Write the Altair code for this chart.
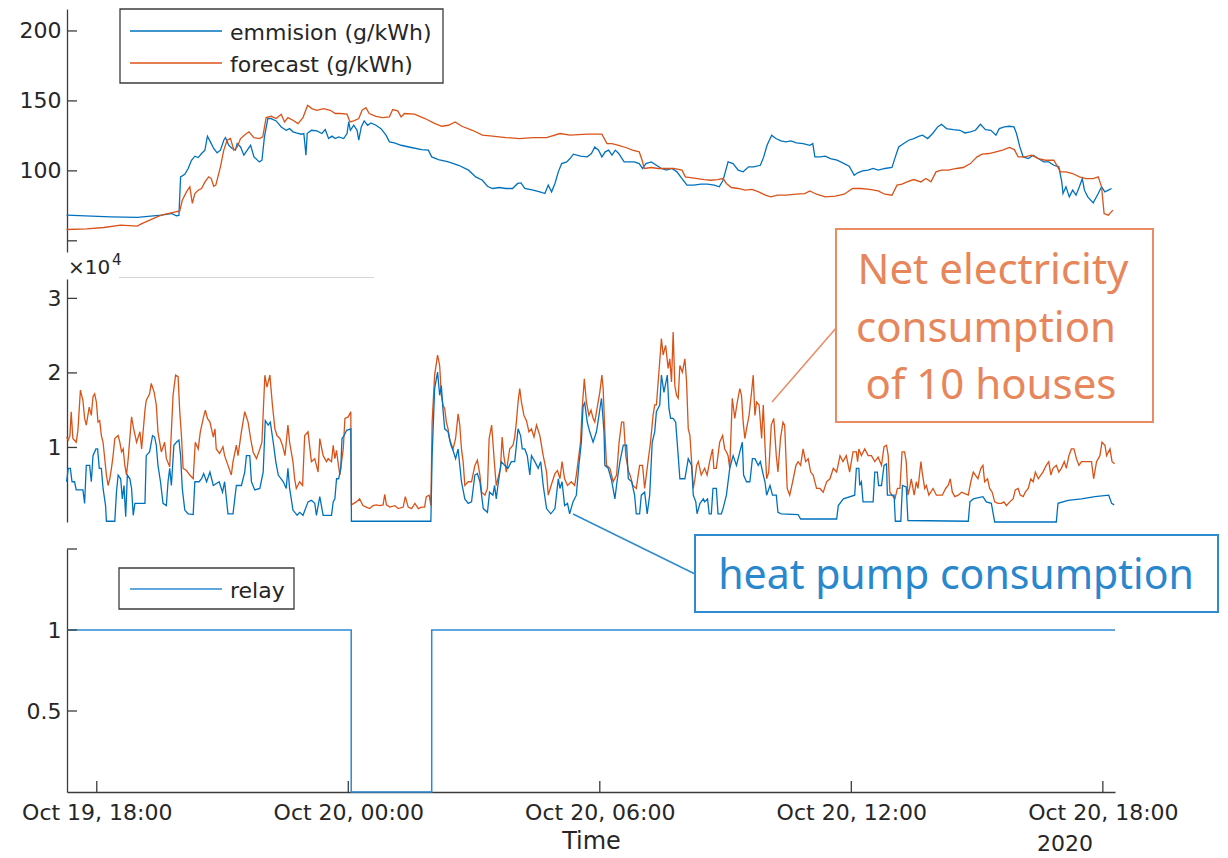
import altair as alt
import pandas as pd

# ---------------- data (hours after 19 Oct 2020 18:00, value) ----------------
T0 = pd.Timestamp("2020-10-19 18:00")
H_START, H_END = -0.71, 24.29
X_TICK_HOURS = [0, 6, 12, 18, 24]

EMISSION = [
    (-0.72, 68.3), (0.33, 67.1), (0.97, 66.7), (1.54, 68.3), (1.78, 69.5), (1.90, 67.9), (1.96, 68.1),
    (2.00, 95.7), (2.10, 97.6), (2.18, 101.7), (2.26, 107.6), (2.34, 110.5), (2.42, 109.5), (2.50, 112.4),
    (2.58, 114.8), (2.64, 124.8), (2.71, 120.7), (2.79, 116.0), (2.87, 112.9), (2.95, 114.8), (3.03, 121.9),
    (3.07, 123.8), (3.15, 118.3), (3.23, 116.0), (3.31, 114.8), (3.35, 119.5), (3.43, 117.1), (3.51, 111.2),
    (3.59, 114.8), (3.67, 118.3), (3.75, 110.0), (3.88, 106.4), (3.94, 107.6), (4.00, 124.3), (4.08, 137.4),
    (4.16, 137.4), (4.28, 135.7), (4.40, 131.4), (4.52, 129.0), (4.60, 130.2), (4.68, 127.9), (4.76, 127.1),
    (4.88, 126.2), (4.94, 126.7), (4.99, 111.2), (5.02, 126.7), (5.12, 129.0), (5.25, 128.6), (5.37, 126.7),
    (5.45, 129.5), (5.53, 123.1), (5.61, 124.8), (5.69, 123.1), (5.77, 124.3), (5.89, 123.1), (5.97, 126.7),
    (6.01, 135.0), (6.05, 129.0), (6.13, 132.6), (6.21, 129.0), (6.25, 121.9), (6.31, 131.4), (6.38, 135.7),
    (6.46, 132.6), (6.54, 134.3), (6.66, 132.6), (6.78, 130.2), (6.90, 125.5), (6.98, 120.7), (7.10, 120.0),
    (7.26, 118.3), (7.50, 116.7), (7.75, 115.2), (7.91, 114.8), (7.99, 110.0), (8.15, 108.1), (8.39, 106.4),
    (8.63, 104.0), (8.87, 100.5), (9.04, 95.7), (9.20, 93.3), (9.32, 89.0), (9.44, 87.4), (9.60, 88.1),
    (9.76, 87.4), (9.92, 87.4), (10.04, 91.0), (10.12, 91.4), (10.21, 87.4), (10.41, 86.2), (10.57, 85.0),
    (10.69, 83.8), (10.77, 89.8), (10.85, 85.0), (10.93, 91.0), (11.01, 99.3), (11.09, 105.2), (11.21, 106.4),
    (11.29, 108.8), (11.37, 111.9), (11.54, 110.5), (11.70, 110.0), (11.80, 112.4), (11.88, 117.1),
    (11.97, 114.8), (12.05, 110.0), (12.13, 113.6), (12.21, 114.8), (12.29, 111.2), (12.37, 114.8),
    (12.45, 112.4), (12.58, 106.4), (12.70, 106.4), (12.82, 106.4), (12.94, 105.2), (13.02, 101.7),
    (13.10, 105.2), (13.23, 106.4), (13.35, 104.0), (13.47, 101.7), (13.59, 100.5), (13.72, 101.7),
    (13.84, 99.3), (13.96, 94.5), (14.08, 89.8), (14.24, 89.8), (14.41, 90.5), (14.57, 90.5), (14.73, 89.8),
    (14.85, 88.6), (14.94, 93.3), (15.06, 106.4), (15.18, 105.2), (15.30, 100.5), (15.42, 99.3),
    (15.55, 102.9), (15.67, 102.9), (15.83, 104.0), (15.91, 110.0), (15.99, 118.3), (16.10, 125.5),
    (16.20, 123.1), (16.32, 121.4), (16.44, 120.7), (16.56, 121.4), (16.69, 120.0), (16.85, 119.5),
    (17.01, 118.3), (17.08, 119.5), (17.13, 110.0), (17.26, 110.0), (17.38, 110.5), (17.50, 108.8),
    (17.66, 107.6), (17.83, 105.2), (17.95, 103.3), (18.07, 96.9), (18.15, 98.6), (18.27, 100.0),
    (18.40, 100.5), (18.52, 101.7), (18.64, 100.5), (18.80, 101.7), (18.97, 102.4), (19.05, 110.0),
    (19.13, 117.1), (19.25, 119.5), (19.37, 121.9), (19.49, 123.1), (19.62, 124.8), (19.70, 125.5),
    (19.82, 123.1), (19.94, 126.7), (20.06, 131.4), (20.15, 133.3), (20.27, 130.2), (20.43, 129.5),
    (20.59, 129.0), (20.71, 127.1), (20.84, 127.9), (20.96, 129.0), (21.08, 133.3), (21.20, 129.5),
    (21.33, 129.0), (21.45, 125.5), (21.53, 130.2), (21.65, 131.4), (21.77, 131.9), (21.88, 131.4),
    (21.94, 126.7), (22.02, 117.1), (22.10, 110.0), (22.22, 108.8), (22.34, 111.2), (22.46, 108.8),
    (22.59, 106.4), (22.71, 106.4), (22.83, 104.0), (22.95, 102.9), (23.02, 92.1), (23.05, 83.8),
    (23.12, 88.6), (23.20, 81.4), (23.28, 86.2), (23.36, 82.6), (23.44, 88.6), (23.51, 94.5), (23.56, 86.2),
    (23.64, 81.4), (23.77, 77.1), (23.89, 83.8), (23.97, 88.6), (24.05, 85.0), (24.13, 86.2), (24.21, 87.4),
]

FORECAST = [
    (-0.72, 58.1), (-0.24, 58.6), (0.17, 59.5), (0.57, 61.2), (0.97, 60.5), (1.05, 61.9), (1.29, 65.2),
    (1.54, 68.3), (1.70, 69.5), (1.98, 71.4), (2.04, 79.0), (2.14, 85.0), (2.22, 88.6), (2.28, 76.7),
    (2.34, 83.8), (2.42, 86.2), (2.50, 87.4), (2.58, 92.1), (2.67, 95.7), (2.73, 94.5), (2.79, 89.0),
    (2.84, 89.8), (2.95, 102.9), (3.03, 114.8), (3.11, 121.9), (3.19, 123.1), (3.27, 114.8), (3.35, 117.1),
    (3.43, 123.1), (3.55, 126.2), (3.63, 127.9), (3.75, 123.8), (3.88, 123.1), (3.96, 124.3), (4.04, 138.1),
    (4.16, 139.0), (4.28, 137.4), (4.40, 140.5), (4.48, 135.0), (4.56, 138.1), (4.68, 136.2), (4.80, 133.8),
    (4.92, 138.1), (5.03, 146.9), (5.13, 144.5), (5.25, 143.3), (5.41, 144.5), (5.57, 143.3), (5.69, 141.0),
    (5.81, 141.0), (5.97, 140.5), (6.04, 135.0), (6.13, 135.7), (6.25, 137.4), (6.33, 143.3), (6.42, 145.2),
    (6.50, 141.0), (6.66, 139.0), (6.82, 138.1), (6.98, 138.6), (7.06, 143.8), (7.18, 142.9), (7.26, 138.6),
    (7.34, 141.0), (7.58, 140.5), (7.83, 137.4), (8.07, 133.8), (8.23, 131.9), (8.39, 132.6), (8.55, 135.0),
    (8.71, 131.9), (8.96, 129.0), (9.20, 125.5), (9.44, 124.8), (9.76, 123.8), (10.08, 123.1), (10.41, 123.8),
    (10.73, 123.8), (11.05, 126.7), (11.29, 125.5), (11.70, 126.2), (11.88, 126.2), (12.05, 126.2),
    (12.17, 119.5), (12.29, 119.5), (12.45, 118.3), (12.62, 116.7), (12.78, 114.8), (12.94, 113.6),
    (13.01, 107.6), (13.06, 101.7), (13.23, 102.4), (13.39, 101.7), (13.59, 101.7), (13.76, 101.7),
    (13.96, 100.5), (14.04, 95.7), (14.16, 95.2), (14.33, 94.5), (14.49, 93.8), (14.65, 93.3), (14.81, 93.8),
    (14.94, 94.5), (15.02, 91.0), (15.14, 88.1), (15.30, 87.4), (15.47, 86.2), (15.63, 86.7), (15.79, 85.0),
    (15.95, 82.6), (16.08, 81.4), (16.24, 82.6), (16.44, 82.6), (16.69, 83.3), (16.89, 83.8), (17.01, 85.7),
    (17.17, 83.3), (17.38, 81.4), (17.62, 81.9), (17.83, 83.3), (18.03, 87.4), (18.23, 87.4), (18.44, 86.7),
    (18.64, 85.7), (18.80, 83.3), (18.97, 82.6), (19.09, 89.8), (19.21, 90.5), (19.33, 92.1), (19.49, 93.8),
    (19.66, 92.1), (19.78, 94.5), (19.90, 92.1), (20.02, 99.3), (20.15, 100.5), (20.31, 100.5),
    (20.51, 101.7), (20.67, 102.4), (20.84, 105.2), (21.00, 110.0), (21.12, 111.9), (21.28, 112.4),
    (21.45, 113.6), (21.61, 114.8), (21.77, 116.7), (21.89, 115.2), (21.98, 110.0), (22.14, 110.0),
    (22.30, 111.2), (22.46, 108.8), (22.63, 107.6), (22.83, 107.6), (22.99, 99.3), (23.12, 99.3),
    (23.28, 98.1), (23.44, 95.7), (23.60, 94.5), (23.77, 94.5), (23.89, 95.7), (23.97, 88.6), (24.03, 69.5),
    (24.13, 68.3), (24.24, 71.9),
]

# net electricity consumption of 10 houses, in units of 10^4
NET = [
    (-0.72, 1.14), (-0.68, 1.10), (-0.64, 1.16), (-0.61, 1.48), (-0.57, 1.12), (-0.49, 1.07), (-0.45, 1.23),
    (-0.39, 1.77), (-0.33, 1.63), (-0.29, 1.39), (-0.25, 1.30), (-0.18, 1.54), (-0.13, 1.43), (-0.09, 1.68),
    (-0.05, 1.72), (-0.01, 1.61), (0.03, 1.34), (0.07, 1.36), (0.11, 1.16), (0.15, 1.07), (0.23, 0.63),
    (0.27, 0.49), (0.31, 0.58), (0.35, 0.72), (0.39, 0.89), (0.43, 1.12), (0.51, 1.16), (0.55, 1.07),
    (0.59, 0.94), (0.63, 0.98), (0.67, 0.76), (0.71, 0.63), (0.75, 0.85), (0.83, 1.41), (0.88, 1.25),
    (0.95, 1.07), (1.03, 1.21), (1.07, 0.98), (1.15, 1.50), (1.18, 1.63), (1.26, 1.72), (1.30, 1.86),
    (1.37, 1.74), (1.42, 1.57), (1.46, 1.21), (1.54, 0.94), (1.62, 1.07), (1.66, 0.85), (1.74, 0.74),
    (1.82, 1.70), (1.88, 1.97), (1.94, 1.95), (1.98, 1.48), (2.02, 1.16), (2.06, 0.72), (2.14, 0.69),
    (2.22, 0.63), (2.30, 0.58), (2.35, 1.07), (2.42, 0.98), (2.47, 1.21), (2.54, 1.39), (2.59, 1.50),
    (2.64, 1.39), (2.70, 1.34), (2.78, 1.14), (2.82, 1.25), (2.85, 0.98), (2.93, 0.92), (3.01, 1.01),
    (3.05, 0.89), (3.13, 0.76), (3.21, 0.63), (3.25, 0.81), (3.33, 1.03), (3.37, 0.89), (3.45, 1.21),
    (3.53, 1.48), (3.61, 1.34), (3.67, 1.12), (3.73, 0.94), (3.81, 0.85), (3.89, 0.98), (3.94, 1.07),
    (4.01, 1.97), (4.06, 1.81), (4.13, 1.97), (4.19, 1.57), (4.25, 1.25), (4.30, 1.16), (4.37, 1.12),
    (4.43, 1.03), (4.49, 0.89), (4.56, 1.30), (4.60, 1.07), (4.68, 0.81), (4.72, 0.58), (4.76, 0.45),
    (4.84, 0.54), (4.91, 0.49), (4.96, 1.16), (5.04, 1.21), (5.12, 0.81), (5.20, 0.85), (5.28, 0.67),
    (5.32, 1.12), (5.40, 0.89), (5.48, 0.81), (5.52, 0.85), (5.60, 0.81), (5.64, 1.03), (5.68, 0.85),
    (5.72, 0.96), (5.76, 0.78), (5.80, 0.63), (5.84, 0.81), (5.88, 0.98), (5.92, 1.39), (6.00, 1.41),
    (6.06, 1.48), (6.075, 0.23), (6.19, 0.27), (6.27, 0.31), (6.35, 0.22), (6.43, 0.20), (6.51, 0.18),
    (6.59, 0.22), (6.67, 0.23), (6.75, 0.22), (6.83, 0.23), (6.87, 0.37), (6.91, 0.23), (6.99, 0.20),
    (7.11, 0.22), (7.19, 0.18), (7.31, 0.20), (7.36, 0.34), (7.43, 0.20), (7.51, 0.18), (7.59, 0.25),
    (7.67, 0.18), (7.75, 0.20), (7.82, 0.20), (7.86, 0.34), (7.93, 0.36), (7.97, 0.22), (8.00, 1.34),
    (8.06, 1.97), (8.13, 2.24), (8.18, 2.10), (8.22, 1.70), (8.26, 1.57), (8.30, 1.52), (8.34, 1.34),
    (8.38, 1.25), (8.42, 1.10), (8.50, 0.98), (8.56, 1.12), (8.62, 1.45), (8.66, 1.30), (8.70, 0.98),
    (8.74, 0.81), (8.78, 0.49), (8.86, 0.54), (8.94, 0.54), (9.02, 0.76), (9.08, 0.83), (9.14, 0.63),
    (9.18, 0.40), (9.26, 0.36), (9.32, 0.45), (9.36, 1.12), (9.42, 1.30), (9.45, 1.07), (9.49, 0.76),
    (9.53, 0.49), (9.57, 0.58), (9.63, 0.72), (9.67, 1.14), (9.71, 0.89), (9.77, 0.67), (9.85, 0.98),
    (9.93, 1.03), (9.97, 1.14), (10.01, 1.34), (10.05, 1.61), (10.09, 1.79), (10.13, 1.61), (10.19, 1.43),
    (10.25, 1.36), (10.31, 1.21), (10.37, 1.25), (10.43, 1.14), (10.49, 1.30), (10.57, 1.16), (10.65, 0.89),
    (10.73, 0.67), (10.77, 0.36), (10.85, 0.51), (10.93, 0.65), (10.99, 0.69), (11.05, 0.58), (11.10, 0.81),
    (11.16, 0.58), (11.23, 0.49), (11.32, 0.54), (11.40, 0.49), (11.44, 0.63), (11.50, 0.89), (11.54, 1.07),
    (11.58, 1.52), (11.63, 1.92), (11.68, 1.61), (11.74, 1.43), (11.79, 1.50), (11.84, 1.39), (11.88, 1.34),
    (11.94, 1.54), (12.00, 1.74), (12.05, 1.97), (12.08, 1.79), (12.12, 1.21), (12.16, 0.76), (12.24, 0.72),
    (12.32, 0.54), (12.40, 0.63), (12.46, 1.07), (12.52, 1.34), (12.57, 1.34), (12.62, 0.89), (12.68, 0.69),
    (12.72, 0.63), (12.79, 0.49), (12.87, 0.45), (12.95, 0.76), (13.02, 0.76), (13.07, 0.45), (13.15, 0.81),
    (13.21, 1.07), (13.27, 1.43), (13.31, 1.57), (13.35, 1.57), (13.41, 2.01), (13.47, 2.46), (13.51, 2.24),
    (13.57, 2.37), (13.63, 2.06), (13.67, 2.19), (13.71, 1.88), (13.75, 2.55), (13.79, 1.83), (13.83, 1.70),
    (13.87, 1.66), (13.91, 2.10), (13.97, 2.01), (14.03, 2.19), (14.07, 1.88), (14.11, 1.25), (14.15, 1.16),
    (14.19, 0.81), (14.23, 0.45), (14.27, 0.58), (14.31, 0.76), (14.35, 0.81), (14.42, 0.63), (14.50, 0.72),
    (14.56, 0.63), (14.62, 0.81), (14.69, 0.98), (14.72, 0.72), (14.78, 0.72), (14.86, 1.07), (14.93, 1.16),
    (14.98, 0.98), (15.02, 0.94), (15.06, 0.89), (15.10, 0.72), (15.16, 1.66), (15.22, 1.39), (15.28, 1.61),
    (15.34, 1.79), (15.38, 1.70), (15.42, 1.34), (15.46, 1.12), (15.50, 1.25), (15.56, 1.43), (15.62, 1.74),
    (15.66, 1.97), (15.70, 1.43), (15.74, 1.61), (15.80, 1.57), (15.86, 1.12), (15.90, 1.57), (15.94, 1.03),
    (15.98, 0.58), (16.03, 0.67), (16.09, 1.30), (16.15, 1.39), (16.21, 0.89), (16.25, 0.67), (16.31, 1.12),
    (16.37, 1.34), (16.41, 1.30), (16.47, 0.45), (16.53, 0.36), (16.60, 0.54), (16.68, 0.76), (16.73, 0.81),
    (16.79, 0.76), (16.85, 0.98), (16.91, 0.81), (16.97, 0.85), (17.03, 0.67), (17.09, 0.63), (17.17, 0.45),
    (17.25, 0.45), (17.33, 0.40), (17.41, 0.54), (17.49, 0.58), (17.57, 0.72), (17.65, 0.67), (17.73, 0.89),
    (17.80, 0.81), (17.88, 0.89), (17.96, 0.67), (18.04, 0.94), (18.12, 0.94), (18.15, 0.81), (18.18, 0.98),
    (18.24, 0.89), (18.32, 0.98), (18.40, 0.89), (18.48, 0.89), (18.56, 0.81), (18.64, 0.87), (18.72, 0.76),
    (18.78, 1.01), (18.84, 1.03), (18.88, 0.89), (18.92, 0.40), (18.97, 0.36), (19.04, 0.31), (19.10, 0.45),
    (19.16, 0.45), (19.21, 0.94), (19.27, 0.94), (19.31, 0.81), (19.35, 0.36), (19.39, 0.45), (19.43, 0.58),
    (19.50, 0.36), (19.55, 0.54), (19.59, 0.45), (19.66, 0.81), (19.69, 0.67), (19.75, 0.45), (19.79, 0.49),
    (19.85, 0.36), (19.95, 0.45), (20.03, 0.36), (20.17, 0.36), (20.25, 0.45), (20.31, 0.49), (20.36, 0.58),
    (20.41, 0.40), (20.47, 0.34), (20.55, 0.36), (20.63, 0.40), (20.71, 0.38), (20.79, 0.36), (20.85, 0.54),
    (20.91, 0.67), (20.96, 0.63), (21.02, 0.58), (21.09, 0.72), (21.14, 0.76), (21.18, 0.54), (21.25, 0.58),
    (21.30, 0.45), (21.36, 0.40), (21.42, 0.27), (21.50, 0.25), (21.58, 0.25), (21.64, 0.27), (21.70, 0.22),
    (21.78, 0.27), (21.86, 0.31), (21.91, 0.43), (21.98, 0.45), (22.03, 0.36), (22.10, 0.34), (22.15, 0.40),
    (22.22, 0.45), (22.28, 0.58), (22.34, 0.54), (22.39, 0.67), (22.46, 0.58), (22.52, 0.63), (22.57, 0.67),
    (22.65, 0.76), (22.71, 0.81), (22.76, 0.63), (22.81, 0.72), (22.89, 0.76), (22.95, 0.67), (23.01, 0.72),
    (23.08, 0.81), (23.13, 0.72), (23.19, 0.89), (23.25, 0.98), (23.31, 0.98), (23.37, 0.85), (23.43, 0.76),
    (23.49, 0.81), (23.57, 0.81), (23.65, 0.81), (23.73, 0.81), (23.78, 0.58), (23.85, 0.81), (23.93, 0.89),
    (23.98, 1.07), (24.05, 1.03), (24.09, 0.89), (24.17, 0.98), (24.22, 0.81), (24.28, 0.78),
]

# heat pump consumption, in units of 10^4
HEATPUMP = [
    (-0.72, 0.54), (-0.68, 0.72), (-0.63, 0.72), (-0.59, 0.54), (-0.53, 0.54), (-0.49, 0.43), (-0.33, 0.43),
    (-0.29, 0.25), (-0.25, 0.76), (-0.17, 0.76), (-0.13, 0.54), (-0.09, 0.89), (-0.02, 0.98), (0.02, 0.98),
    (0.06, 0.72), (0.11, 0.72), (0.15, 0.45), (0.21, 0.22), (0.23, 0.01), (0.43, 0.01), (0.47, 0.40),
    (0.51, 0.63), (0.57, 0.58), (0.61, 0.31), (0.65, 0.49), (0.69, 0.07), (0.73, 0.63), (0.79, 0.58),
    (0.83, 0.45), (0.87, 0.09), (0.91, 0.25), (1.15, 0.25), (1.18, 0.89), (1.26, 0.94), (1.33, 1.16),
    (1.38, 1.14), (1.42, 1.03), (1.46, 0.76), (1.52, 0.54), (1.58, 0.25), (1.66, 0.22), (1.70, 0.54),
    (1.74, 0.72), (1.78, 0.49), (1.84, 1.03), (1.90, 1.07), (1.96, 1.10), (2.00, 0.89), (2.04, 0.45),
    (2.10, 0.16), (2.18, 0.11), (2.30, 0.10), (2.34, 0.54), (2.44, 0.54), (2.50, 0.58), (2.55, 0.65),
    (2.62, 0.54), (2.70, 0.67), (2.78, 0.49), (2.92, 0.54), (3.00, 0.40), (3.05, 0.54), (3.13, 0.11),
    (3.25, 0.11), (3.33, 0.49), (3.45, 0.49), (3.53, 0.67), (3.57, 0.89), (3.65, 0.89), (3.69, 0.54),
    (3.77, 0.43), (3.89, 0.45), (3.97, 0.67), (4.02, 1.36), (4.09, 1.30), (4.14, 1.34), (4.21, 1.07),
    (4.27, 0.81), (4.33, 0.63), (4.45, 0.54), (4.52, 0.45), (4.56, 0.72), (4.60, 0.45), (4.64, 0.31),
    (4.68, 0.16), (4.78, 0.09), (4.84, 0.13), (4.92, 0.09), (5.04, 0.27), (5.12, 0.29), (5.20, 0.25),
    (5.24, 0.09), (5.32, 0.34), (5.40, 0.09), (5.60, 0.09), (5.64, 0.27), (5.68, 0.31), (5.72, 0.58),
    (5.77, 0.58), (5.82, 0.72), (5.85, 1.12), (5.90, 1.16), (5.96, 1.23), (6.06, 1.25), (6.075, 0.01),
    (7.97, 0.01), (8.00, 0.89), (8.06, 1.79), (8.13, 2.01), (8.18, 1.70), (8.22, 1.83), (8.26, 1.50),
    (8.30, 1.25), (8.38, 1.21), (8.45, 1.03), (8.50, 0.96), (8.56, 0.85), (8.62, 0.98), (8.70, 0.54),
    (8.78, 0.31), (8.86, 0.25), (8.94, 0.27), (9.02, 0.63), (9.08, 0.65), (9.14, 0.54), (9.22, 0.18),
    (9.32, 0.13), (9.37, 0.40), (9.45, 0.36), (9.49, 0.49), (9.53, 0.31), (9.57, 0.49), (9.65, 0.81),
    (9.73, 0.76), (9.81, 0.72), (9.89, 0.81), (9.97, 0.81), (10.05, 1.25), (10.11, 1.16), (10.15, 0.98),
    (10.21, 0.98), (10.27, 0.89), (10.33, 0.63), (10.37, 0.89), (10.45, 0.81), (10.53, 0.72), (10.59, 0.81),
    (10.65, 0.49), (10.73, 0.18), (10.83, 0.11), (10.93, 0.18), (11.01, 0.58), (11.05, 0.45), (11.10, 0.54),
    (11.16, 0.22), (11.23, 0.25), (11.28, 0.11), (11.36, 0.27), (11.44, 0.36), (11.50, 0.76), (11.56, 1.07),
    (11.60, 1.55), (11.64, 1.60), (11.70, 1.34), (11.76, 1.21), (11.84, 1.07), (11.92, 1.21), (11.98, 1.43),
    (12.04, 1.66), (12.10, 1.21), (12.12, 0.76), (12.20, 0.72), (12.28, 0.56), (12.36, 0.31), (12.41, 0.54),
    (12.48, 0.81), (12.56, 1.03), (12.64, 1.03), (12.68, 0.58), (12.76, 0.54), (12.83, 0.36), (12.87, 0.11),
    (12.95, 0.11), (12.99, 0.36), (13.07, 0.40), (13.13, 0.11), (13.19, 0.36), (13.25, 1.07), (13.31, 1.21),
    (13.35, 1.48), (13.43, 1.57), (13.47, 1.97), (13.53, 1.74), (13.61, 1.97), (13.65, 1.52), (13.69, 1.39),
    (13.75, 1.39), (13.81, 1.34), (13.87, 0.89), (13.91, 0.58), (14.03, 0.58), (14.11, 0.85), (14.19, 0.76),
    (14.23, 0.36), (14.29, 0.27), (14.32, 0.11), (14.39, 0.25), (14.47, 0.31), (14.50, 0.27), (14.57, 0.31),
    (14.61, 0.11), (14.66, 0.11), (14.70, 0.45), (14.78, 0.45), (14.82, 0.11), (14.90, 0.11), (14.94, 0.18),
    (15.02, 0.36), (15.10, 0.72), (15.18, 0.89), (15.26, 0.76), (15.34, 0.94), (15.40, 1.07), (15.43, 0.63),
    (15.50, 0.54), (15.58, 0.54), (15.64, 0.85), (15.70, 0.85), (15.78, 0.76), (15.83, 0.81), (15.90, 0.63),
    (15.94, 0.54), (15.98, 0.36), (16.06, 0.49), (16.12, 0.36), (16.21, 0.36), (16.25, 0.13), (16.33, 0.11),
    (16.73, 0.10), (16.79, 0.04), (17.65, 0.04), (17.69, 0.22), (17.81, 0.31), (18.08, 0.36), (18.12, 0.72),
    (18.18, 0.72), (18.20, 0.49), (18.24, 0.54), (18.28, 0.27), (18.52, 0.27), (18.56, 0.67), (18.62, 0.67),
    (18.65, 0.49), (18.72, 0.49), (18.78, 0.76), (18.84, 0.78), (18.86, 0.36), (19.02, 0.36), (19.05, 0.01),
    (19.18, 0.01), (19.22, 0.49), (19.31, 0.47), (19.35, 0.02), (20.79, 0.01), (20.83, 0.27), (20.91, 0.31),
    (21.14, 0.34), (21.22, 0.27), (21.34, 0.25), (21.42, 0.00), (22.89, 0.00), (22.93, 0.25), (23.17, 0.29),
    (23.49, 0.31), (23.81, 0.34), (24.14, 0.36), (24.21, 0.25), (24.27, 0.23),
]

RELAY = [(-0.71, 1), (6.07, 0), (7.99, 1), (24.29, 1)]

TOP_TICKS = [50, 100, 150, 200]
TOP_LABELS = [100, 150, 200]
MID_TICKS = [10000, 20000, 30000]
BOT_TICKS = [0.5, 1, 1.5]
BOT_LABELS = [0.5, 1]

# ---------------- styling ----------------
BLUE, ORANGE, RELAY_BLUE = "#0072BD", "#D95319", "#2b8ad2"
TXT, AXC = "#262626", "#3c3c3c"
MFONT, CFONT = "DejaVu Sans", "Noto Sans"
C_OR_TXT, C_OR_BOX = "#E8865B", "#E98B63"
C_BL_TXT, C_BL_BOX = "#2987CD", "#2E8BCF"
W, H = 1048, 243


def series(pairs, k=1.0):
    return pd.DataFrame({
        "t": T0 + pd.to_timedelta([p[0] for p in pairs], unit="h"),
        "v": [p[1] * k for p in pairs],
    })


def dt(h):
    ts = T0 + pd.Timedelta(hours=h)
    return alt.DateTime(year=ts.year, month=ts.month, date=ts.day,
                        hours=ts.hour, minutes=ts.minute, seconds=ts.second)


XSCALE = alt.Scale(domain=[dt(H_START), dt(H_END)])
one = pd.DataFrame({"k": [0]})


def yaxis(values, **kw):
    return alt.Axis(values=values, title=None, ticks=False, tickSize=0, grid=False,
                    labelFont=MFONT, labelFontSize=22, labelColor=TXT, labelPadding=6,
                    labelOverlap=False, domainColor=AXC, domainWidth=1.3, **kw)


def line(df, color, ysc, ax, xax=None, sw=1.3, **mk):
    return alt.Chart(df).mark_line(color=color, strokeWidth=sw, **mk).encode(
        x=alt.X("t:T", scale=XSCALE, axis=xax),
        y=alt.Y("v:Q", scale=ysc, axis=ax))


def yticks(vals, ysc, ax):
    return alt.Chart(pd.DataFrame({"v": vals})).mark_rule(color=AXC, strokeWidth=1.3).encode(
        y=alt.Y("v:Q", scale=ysc, axis=ax), x=alt.value(0), x2=alt.value(10))


def box(x, x2, y, y2, stroke, sw=1.3):
    return alt.Chart(one).mark_rect(fill="white", stroke=stroke, strokeWidth=sw).encode(
        x=alt.value(x), x2=alt.value(x2), y=alt.value(y), y2=alt.value(y2))


def seg(x, x2, y, y2, color, sw=1.3):
    return alt.Chart(one).mark_rule(color=color, strokeWidth=sw).encode(
        x=alt.value(x), x2=alt.value(x2), y=alt.value(y), y2=alt.value(y2))


def label(txt, x, y, size, color=TXT, font=MFONT, align="left", baseline="middle"):
    return alt.Chart(one).mark_text(text=txt, font=font, fontSize=size, color=color,
                                    align=align, baseline=baseline).encode(
        x=alt.value(x), y=alt.value(y))


# ---------------- top panel: emission / forecast ----------------
ysc_top = alt.Scale(domain=[42, 215.7], nice=False, zero=False)
ax_top = yaxis(TOP_LABELS)
top = alt.layer(
    line(series(EMISSION), BLUE, ysc_top, ax_top),
    line(series(FORECAST), ORANGE, ysc_top, ax_top),
    yticks(TOP_TICKS, ysc_top, ax_top),
    box(53, 376, 0, 74, AXC),
    seg(63, 155, 22, 22, BLUE, 1.6),
    seg(63, 155, 54, 54, ORANGE, 1.6),
    label("emmision (g/kWh)", 163, 24, 22),
    label("forecast (g/kWh)", 163, 56, 22),
).properties(width=W, height=H)

# ---------------- middle panel: consumption ----------------
ysc_mid = alt.Scale(domain=[0, 32600], nice=False)
ax_mid = yaxis(MID_TICKS, labelExpr="datum.value / 10000")
mid = alt.layer(
    line(series(NET, 10000), ORANGE, ysc_mid, ax_mid),
    line(series(HEATPUMP, 10000), BLUE, ysc_mid, ax_mid),
    yticks(MID_TICKS, ysc_mid, ax_mid),
    seg(52, 307, -1.5, -1.5, "#d4d4d4", 1),
    label("\u00d710", 1, -5, 20, baseline="alphabetic"),
    label("4", 45, -14, 15, baseline="alphabetic"),
    seg(705, 770, 123, 48, C_OR_BOX, 1.5),
    box(769, 1086, -50, 143, C_OR_BOX, 2),
    label("Net electricity", 926, 5, 42, C_OR_TXT, CFONT, "center", "alphabetic"),
    label("consumption", 919, 63, 42, C_OR_TXT, CFONT, "center", "alphabetic"),
    label("of 10 houses", 924, 120, 42, C_OR_TXT, CFONT, "center", "alphabetic"),
).properties(width=W, height=H)

# ---------------- bottom panel: relay ----------------
ysc_bot = alt.Scale(domain=[0, 1.5], nice=False)
ax_bot = yaxis(BOT_LABELS, format="~g")
ax_x = alt.Axis(values=[dt(h) for h in X_TICK_HOURS],
                labelExpr="timeFormat(datum.value, '%b %d, %H:%M')",
                title="Time", ticks=False, tickSize=0, grid=False,
                labelFont=MFONT, labelFontSize=22, labelColor=TXT, labelPadding=10,
                labelFlush=False, labelOverlap=False,
                titleFont=MFONT, titleFontSize=24, titleColor=TXT, titleFontWeight="normal",
                titlePadding=6, domainColor=AXC, domainWidth=1.3)
xticks = alt.Chart(pd.DataFrame({"t": T0 + pd.to_timedelta(X_TICK_HOURS, unit="h")})).mark_rule(
    color=AXC, strokeWidth=1.3).encode(
    x=alt.X("t:T", scale=XSCALE, axis=ax_x), y=alt.value(H), y2=alt.value(H - 11))

bot = alt.layer(
    line(series(RELAY), RELAY_BLUE, ysc_bot, ax_bot, xax=ax_x, sw=1.5, interpolate="step-after"),
    xticks,
    yticks(BOT_TICKS, ysc_bot, ax_bot),
    box(52, 227, 19, 60, AXC),
    seg(63, 155, 40, 40, RELAY_BLUE, 1.6),
    label("relay", 163, 42, 22),
    label("2020", 998, 302, 22, align="center", baseline="alphabetic"),
    seg(506, 628, -35, 25, C_BL_BOX, 1.5),
    box(628, 1151, -14, 63, C_BL_BOX, 2),
    label("heat pump consumption", 889, 40, 41, C_BL_TXT, CFONT, "center", "alphabetic"),
).properties(width=W, height=H)

chart = alt.vconcat(top, mid, bot, spacing=27, bounds="flush").properties(
    padding={"left": 11, "top": 0, "right": 0, "bottom": 0},
    background="white",
).configure_view(stroke=None)

chart.save("out.html", embed_options={"renderer": "svg", "actions": False})
